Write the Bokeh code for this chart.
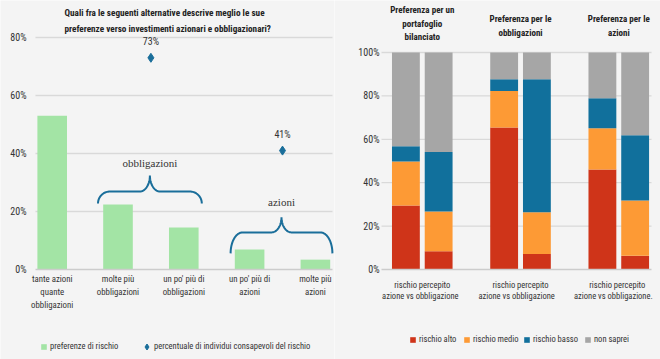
import numpy as np
from bokeh.plotting import figure
from bokeh.models import (ColumnDataSource, Range1d, FixedTicker, NumeralTickFormatter,
                          Label, Legend, LegendItem)
from bokeh.layouts import row
from bokeh.embed import file_html
from bokeh.resources import INLINE

# ---------------- data ----------------
left_title = ["Quali fra le seguenti alternative descrive meglio le sue",
              "preferenze verso investimenti azionari e obbligazionari?"]
categories = ["tante azioni\nquante\nobbligazioni", "molte più\nobbligazioni",
              "un po' più di\nobbligazioni", "un po' più di\nazioni", "molte più\nazioni"]
pref_rischio = [0.53, 0.224, 0.145, 0.069, 0.034]
aware_groups = ["obbligazioni", "azioni"]
aware_members = [[1, 2], [3, 4]]
aware_values = [0.73, 0.41]
aware_labels = ["73%", "41%"]
left_ticks = [0, 0.2, 0.4, 0.6, 0.8]

groups = ["Preferenza per un\nportafoglio\nbilanciato",
          "Preferenza per le\nobbligazioni",
          "Preferenza per le\nazioni"]
group_axis_labels = ["rischio percepito\nazione  vs  obbligazione",
                     "rischio percepito\nazione   vs   obbligazione",
                     "rischio percepito\nazione   vs   obbligazione."]
bars_kind = ["azione", "obbligazione"]
rischio_alto = [0.295, 0.084, 0.654, 0.072, 0.461, 0.063]
rischio_medio = [0.203, 0.183, 0.169, 0.192, 0.190, 0.255]
rischio_basso = [0.070, 0.274, 0.054, 0.613, 0.138, 0.301]
non_saprei = [0.432, 0.459, 0.123, 0.123, 0.211, 0.381]
series_names = ["rischio alto", "rischio medio", "rischio basso", "non saprei"]
right_ticks = [0, 0.2, 0.4, 0.6, 0.8, 1.0]

# ---------------- style ----------------
BG = "#f4f4f4"
GRID = "#d9d9d9"
TXT = "#333333"
GREEN = "#a3e4a5"
BLUE_D = "#1a6e9a"
COLORS = ["#cf3419", "#fd9a35", "#11709c", "#a6a6a6"]
FONT = "Roboto Condensed, DejaVu Sans Condensed, Roboto"
SERIF = "Liberation Serif"
FIG_H = 359
BOTTOM_PX = 90  # pixels from the bottom edge to the 0% line


def make_fig(w, xr, yr):
    p = figure(width=w, height=FIG_H, x_range=Range1d(*xr), y_range=Range1d(*yr),
               output_backend="svg", toolbar_location=None, title=None,
               min_border_left=0, min_border_right=0, min_border_top=0, min_border_bottom=0)
    p.background_fill_color = BG
    p.border_fill_color = BG
    p.outline_line_color = None
    p.xgrid.visible = False
    p.ygrid.visible = False
    return p


def style_axes(p, x0, x1, ytop, yticks, ystandoff):
    ya = p.yaxis[0]
    ya.fixed_location = x0
    ya.ticker = FixedTicker(ticks=yticks)
    ya.bounds = (0, ytop)
    ya.axis_line_color = None
    ya.major_tick_line_color = None
    ya.minor_tick_line_color = None
    ya.major_tick_out = 0
    ya.major_tick_in = 0
    ya.major_label_standoff = ystandoff
    ya.major_label_text_font = FONT
    ya.major_label_text_font_size = "10px"
    ya.major_label_text_color = TXT
    ya.formatter = NumeralTickFormatter(format="0%")
    xa = p.xaxis[0]
    xa.fixed_location = 0
    xa.bounds = (x0, x1)
    xa.axis_line_color = "#cccccc"
    xa.axis_line_width = 1.5
    xa.major_tick_line_color = None
    xa.minor_tick_line_color = None
    xa.major_tick_out = 0
    xa.major_tick_in = 0
    xa.major_label_text_font = FONT
    xa.major_label_text_color = TXT
    # horizontal gridlines spanning only the chart area
    gt = [t for t in yticks if t > 0]
    p.segment(x0=[x0] * len(gt), x1=[x1] * len(gt), y0=gt, y1=gt,
              line_color=GRID, line_width=1.3)


def legend_at(p, items, x, y, glyph, standoff, size):
    lg = Legend(items=items, location=(x, y), orientation="horizontal")
    lg.background_fill_alpha = 0
    lg.border_line_color = None
    lg.padding = 0
    lg.margin = 0
    lg.glyph_width = glyph
    lg.glyph_height = glyph
    lg.label_standoff = standoff
    lg.label_text_font = FONT
    lg.label_text_font_size = size
    lg.label_text_color = TXT
    p.add_layout(lg)


# ---------------- left chart ----------------
LPX_X, LPX_Y = 65.8, 290.0
L_W = 334
lx0 = -51.7 / LPX_X
ly0 = -BOTTOM_PX / LPX_Y
left = make_fig(L_W, (lx0, lx0 + L_W / LPX_X), (ly0, ly0 + FIG_H / LPX_Y))
L_CHART = (-0.254, 4.26)
style_axes(left, L_CHART[0], L_CHART[1], 0.8, left_ticks, 9)
xs = list(range(len(categories)))
left.xaxis.ticker = FixedTicker(ticks=xs)
left.xaxis.major_label_overrides = {i: c for i, c in enumerate(categories)}
left.xaxis.major_label_text_font_size = "8.8px"
left.xaxis.major_label_text_line_height = 1.3
left.xaxis.major_label_standoff = 4

src = ColumnDataSource(dict(x=xs, v=pref_rischio))
bars = left.vbar(x="x", top="v", width=0.45, source=src, fill_color=GREEN, line_color=None)

aware_x = [float(np.mean(m)) for m in aware_members]
dsrc = ColumnDataSource(dict(x=aware_x, y=aware_values, t=aware_labels))
dia = left.scatter(x="x", y="y", source=dsrc, marker="diamond", size=9,
                   fill_color=BLUE_D, line_color=BLUE_D)
for x, y, t in zip(aware_x, aware_values, aware_labels):
    left.add_layout(Label(x=x, y=y, text=t, text_align="center", text_baseline="middle",
                          y_offset=16, text_font=FONT, text_font_size="10px", text_color=TXT))

brace_geom = [  # (left pad px, right pad px, end px below mid, tip px above mid, label px above tip, mid level)
    (20, 18, 12, 16, 12, 0.269),
    (19, 17, 21, 15, 15, 0.128),
]


def brace(xa, xb, y_end, y_mid, y_tip, rx, rx2, n=20):
    xc = (xa + xb) / 2
    th = np.linspace(np.pi, np.pi / 2, n)
    x1 = xa + rx + rx * np.cos(th)
    y1 = y_end + (y_mid - y_end) * np.sin(th)
    th2 = np.linspace(-np.pi / 2, 0, n)
    x2 = xc - rx2 + rx2 * np.cos(th2)
    y2 = y_tip + (y_tip - y_mid) * np.sin(th2)
    lx = np.concatenate([x1, x2])
    ly = np.concatenate([y1, y2])
    return np.concatenate([lx, 2 * xc - lx[::-1]]), np.concatenate([ly, ly[::-1]])


for name, mem, g in zip(aware_groups, aware_members, brace_geom):
    lp, rp, endd, tipu, labu, ymid = g
    xa = mem[0] - lp / LPX_X
    xb = mem[-1] + rp / LPX_X
    bx, by = brace(xa, xb, ymid - endd / LPX_Y, ymid, ymid + tipu / LPX_Y,
                   12 / LPX_X, 10 / LPX_X)
    keep = bx <= L_CHART[1]
    left.line(bx[keep], by[keep], line_color=BLUE_D, line_width=2)
    left.add_layout(Label(x=(xa + xb) / 2, y=ymid + tipu / LPX_Y, y_offset=labu,
                          text=name, text_align="center", text_baseline="middle",
                          text_font=SERIF, text_font_size="11px", text_color=TXT))

for i, line in enumerate(left_title):
    left.add_layout(Label(x=0.187, y=0.8, y_offset=25 - 16 * i, text=line, text_align="left",
                          text_baseline="middle", text_font=FONT, text_font_style="bold",
                          text_font_size="9.2px", text_color="#222222"))

legend_at(left, [LegendItem(label="preferenze di rischio", renderers=[bars])],
          40, 8, 7, 3, "8.5px")
legend_at(left, [LegendItem(label="percentuale di individui consapevoli del rischio",
                            renderers=[dia])], 139, 5.5, 15, 0, "8.5px")

# ---------------- right chart ----------------
RPX_X, RPX_Y = 32.75, 217.0
R_W = 326
R_CHART = (-0.245, 8.0)
rx0 = R_CHART[0] - 47 / RPX_X
ry0 = -BOTTOM_PX / RPX_Y
right = make_fig(R_W, (rx0, rx0 + R_W / RPX_X), (ry0, ry0 + FIG_H / RPX_Y))
style_axes(right, R_CHART[0], R_CHART[1], 1.0, right_ticks, 2)

bx_pos = [gi * 3 + 0.5 + bi for gi in range(len(groups)) for bi in range(len(bars_kind))]
gcent = [gi * 3 + 1.0 for gi in range(len(groups))]
rsrc = ColumnDataSource(dict(x=bx_pos, alto=rischio_alto, medio=rischio_medio,
                             basso=rischio_basso, non=non_saprei))
rends = right.vbar_stack(["alto", "medio", "basso", "non"], x="x", width=0.85, source=rsrc,
                         fill_color=COLORS, line_color=None)
right.xaxis.ticker = FixedTicker(ticks=gcent)
right.xaxis.major_label_overrides = {c: l for c, l in zip(gcent, group_axis_labels)}
right.xaxis.major_label_text_font_size = "8.5px"
right.xaxis.major_label_text_line_height = 1.1
right.xaxis.major_label_standoff = 10

title_offsets = [[43, 29, 16], [34, 20], [34, 20]]
for c, gname, offs in zip(gcent, groups, title_offsets):
    for line, off in zip(gname.split("\n"), offs):
        right.add_layout(Label(x=c, y=1.0, y_offset=off, text=line, text_align="center",
                               text_baseline="middle", text_font=FONT, text_font_style="bold",
                               text_font_size="9px", text_color="#222222"))

for r, n, lx in zip(rends, series_names, [75, 129, 189, 250]):
    legend_at(right, [LegendItem(label=n, renderers=[r])], lx, 15, 7, 3, "8.5px")

layout = row(left, right)
layout.spacing = 0
open("out.html", "w").write(file_html(layout, INLINE))
